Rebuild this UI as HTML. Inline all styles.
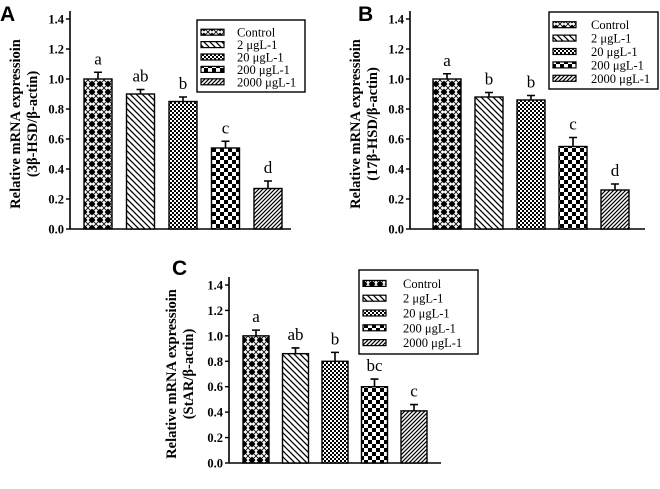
<!DOCTYPE html>
<html><head><meta charset="utf-8">
<style>
html,body{margin:0;padding:0;background:#fff;}
svg{display:block;}
text{font-family:"Liberation Serif",serif;}
text.lbl{font-family:"Liberation Sans",sans-serif;font-weight:bold;font-size:21px;}
</style></head>
<body>
<svg id="fig" width="660" height="489" viewBox="0 0 660 489" xmlns="http://www.w3.org/2000/svg">
<defs>
  <pattern id="p0" width="8" height="8" patternUnits="userSpaceOnUse">
    <rect width="8" height="8" fill="#fff"/>
    <path d="M4 0.5 L7.5 4 L4 7.5 L0.5 4Z" fill="#000"/>
    <path d="M0 0 L8 8 M8 0 L0 8" stroke="#000" stroke-width="0.8"/>
  </pattern>
  <pattern id="p1" width="6" height="6" patternUnits="userSpaceOnUse">
    <rect width="6" height="6" fill="#fff"/>
    <path d="M-1 -1 L7 7 M-4 2 L2 8 M2 -4 L8 2" stroke="#000" stroke-width="1.3"/>
  </pattern>
  <pattern id="p2" width="4" height="4" patternUnits="userSpaceOnUse">
    <rect width="4" height="4" fill="#fff"/>
    <rect width="2" height="2" fill="#000"/><rect x="2" y="2" width="2" height="2" fill="#000"/>
  </pattern>
  <pattern id="p3" width="8" height="8" patternUnits="userSpaceOnUse">
    <rect width="8" height="8" fill="#fff"/>
    <rect width="4" height="4" fill="#000"/><rect x="4" y="4" width="4" height="4" fill="#000"/>
  </pattern>
  <pattern id="p4" width="4" height="4" patternUnits="userSpaceOnUse">
    <rect width="4" height="4" fill="#fff"/>
    <path d="M-1 5 L5 -1 M-1 1 L1 -1 M3 5 L5 3" stroke="#000" stroke-width="1.2"/>
  </pattern>
</defs>
</svg>
<script>
const groups = ["Control","2 μgL-1","20 μgL-1","200 μgL-1","2000 μgL-1"];
const ticks = [0.0,0.2,0.4,0.6,0.8,1.0,1.2,1.4];
const valuesA = [1.00,0.90,0.85,0.54,0.27];
const errorsA = [0.045,0.03,0.03,0.045,0.05];
const lettersA = ["a","ab","b","c","d"];
const valuesB = [1.00,0.88,0.86,0.55,0.26];
const errorsB = [0.035,0.03,0.03,0.06,0.04];
const lettersB = ["a","b","b","c","d"];
const valuesC = [1.00,0.86,0.80,0.60,0.41];
const errorsC = [0.045,0.045,0.07,0.06,0.05];
const lettersC = ["a","ab","b","bc","c"];

const NS="http://www.w3.org/2000/svg";
const svg=document.getElementById('fig');
function mk(tag,attrs,parent,txt){const e=document.createElementNS(NS,tag);for(const k in attrs)e.setAttribute(k,attrs[k]);if(txt!==undefined)e.textContent=txt;(parent||svg).appendChild(e);return e;}

function panel(cfg,values,errors,letters){
  const g=mk('g',{});
  
  
  const y=v=>cfg.y0-(v/1.4)*(cfg.y0-cfg.y14);
  const bx=i=>cfg.b0+i*cfg.step;
  const L=mk('text',{x:cfg.lx,y:cfg.ly,'class':'lbl'},g,cfg.id);
  
  
  const ax=mk('line',{x1:cfg.ax,y1:cfg.y14-8,x2:cfg.ax,y2:cfg.y0,stroke:'#000','stroke-width':1.6},g);
  
  
  const xx=mk('line',{x1:cfg.ax,y1:cfg.y0,x2:cfg.xend,y2:cfg.y0,stroke:'#000','stroke-width':1.6},g);
  
  
  ticks.forEach(t=>{
    mk('line',{x1:cfg.ax-4,y1:y(t),x2:cfg.ax,y2:y(t),stroke:'#000','stroke-width':1.4},g);
    const tl=mk('text',{x:cfg.ax-6,y:y(t)+4.5,'text-anchor':'end','font-weight':'bold','font-size':12.5},g,t.toFixed(1));
    
    
  });
  const tt=mk('text',{transform:`translate(${cfg.tx},${(cfg.y0+cfg.y14)/2}) rotate(-90)`,'text-anchor':'middle','font-weight':'bold','font-size':14.5},g);
  
  
  mk('tspan',{x:0,dy:0},tt,'Relative mRNA expressioin');
  mk('tspan',{x:0,dy:17},tt,cfg.sub);
  values.forEach((v,i)=>{
    const top=y(v);
    const r=mk('rect',{x:bx(i),y:top,width:cfg.bw,height:cfg.y0-top,fill:`url(#p${i})`,stroke:'#000','stroke-width':1.4},g);
    
    
    const cx=bx(i)+cfg.bw/2, et=y(v+errors[i]);
    const e=mk('path',{d:`M${cx} ${top} L${cx} ${et} M${cx-4} ${et} L${cx+4} ${et}`,stroke:'#000','stroke-width':1.6,fill:'none'},g);
    
    
    const lt=mk('text',{x:cx,y:et-8,'text-anchor':'middle','font-size':17},g,letters[i]);
    
    
  });
  const lg=mk('g',{},g);
  
  
  mk('rect',{x:cfg.gx,y:cfg.gy,width:cfg.gw,height:cfg.gh,fill:'#fff',stroke:'#000','stroke-width':1.4},lg);
  const rh=(cfg.gh-10)/5;
  groups.forEach((n,i)=>{
    const yy=cfg.gy+6+rh*i+rh/2;
    const sw=mk('rect',{x:cfg.gx+4,y:yy-3,width:23,height:6,fill:`url(#p${i})`,stroke:'#000','stroke-width':1.2},lg);
    
    
    const t=mk('text',{x:cfg.gx+cfg.tofs,y:yy+4.5,'font-size':12.5},lg,n);
    
    
  });
}
panel({id:'A',lx:0,ly:21,ax:70,y0:229,y14:19,xend:291,b0:84,step:42.5,bw:28,tx:20,sub:'(3β-HSD/β-actin)',gx:197,gy:20,gw:108,gh:72,tofs:40},valuesA,errorsA,lettersA);
panel({id:'B',lx:358,ly:21,ax:410,y0:229,y14:19,xend:645,b0:433,step:42,bw:28,tx:360,sub:'(17β-HSD/β-actin)',gx:549,gy:12,gw:109,gh:77,tofs:42},valuesB,errorsB,lettersB);
panel({id:'C',lx:172,ly:275,ax:229,y0:463,y14:285,xend:441,b0:243,step:39.5,bw:26,tx:176,sub:'(StAR/β-actin)',gx:359,gy:270,gw:119,gh:84,tofs:44},valuesC,errorsC,lettersC);
</script>
</body></html>
